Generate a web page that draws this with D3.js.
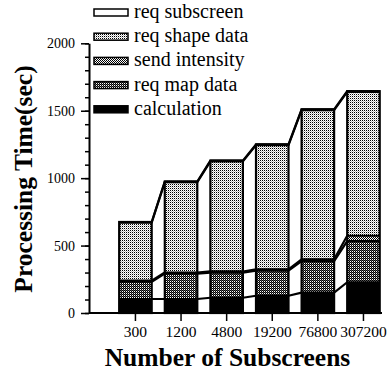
<!DOCTYPE html>
<html>
<head>
<meta charset="utf-8">
<script src="https://cdn.jsdelivr.net/npm/d3@7"></script>
<style>
  body { margin: 0; background: #fff; }
  svg { display: block; }
  text { font-family: 'Liberation Serif', 'Times New Roman', serif; }
</style>
</head>
<body>
<div id="chart"></div>
<script>
// values (seconds), bottom layer first
const categories = ["300", "1200", "4800", "19200", "76800", "307200"];
const calculation   = [104, 104, 113, 128, 151, 228];
const reqMapData    = [128, 188, 187, 186, 233, 305];
const sendIntensity = [8, 8, 8, 10, 14, 40];
const reqShapeData  = [430, 670, 817, 921, 1107, 1067];
const reqSubscreen  = [5, 5, 5, 5, 5, 5];
const yTicks = [0, 500, 1000, 1500, 2000];
const yMinorTicks = d3.range(0, 2001, 100);

const layerKeys = ["calculation", "reqMap", "send", "shape", "subscreen"];
const legendItems = [
  { key: "subscreen", label: "req subscreen" },
  { key: "shape", label: "req shape data" },
  { key: "send", label: "send intensity" },
  { key: "reqMap", label: "req map data" },
  { key: "calculation", label: "calculation" }
];

const table = categories.map((c, i) => ({
  cat: c,
  calculation: calculation[i],
  reqMap: reqMapData[i],
  send: sendIntensity[i],
  shape: reqShapeData[i],
  subscreen: reqSubscreen[i]
}));

const serif = "'Liberation Serif', 'Times New Roman', serif";
const width = 391, height = 374;
const svg = d3.select("#chart").append("svg")
  .attr("width", width)
  .attr("height", height);

// fill patterns
const defs = svg.append("defs");
function addPattern(id, w, h, cells) {
  const p = defs.append("pattern")
    .attr("id", id)
    .attr("patternUnits", "userSpaceOnUse")
    .attr("width", w).attr("height", h);
  p.append("rect").attr("width", w).attr("height", h).attr("fill", "#fff");
  cells.forEach(c => p.append("rect")
    .attr("x", c[0]).attr("y", c[1]).attr("width", 1).attr("height", 1)
    .attr("fill", c[2]));
}
addPattern("p-shape", 2, 2, [[0, 0, "#000"], [1, 1, "#bbb"]]);
addPattern("p-send", 2, 2, [[0, 0, "#000"], [1, 1, "#000"]]);
addPattern("p-map", 2, 2, [[0, 0, "#000"], [1, 1, "#000"], [1, 0, "#555"]]);

const fills = {
  calculation: "#000",
  reqMap: "url(#p-map)",
  send: "url(#p-send)",
  shape: "url(#p-shape)",
  subscreen: "#fff"
};

// scales
const x = d3.scaleBand()
  .domain(categories)
  .range([116.9, 382])
  .paddingInner(0.287)
  .paddingOuter(0.05);

const y = d3.scaleLinear()
  .domain([0, 2000])
  .range([313, 43.3]);

const series = d3.stack().keys(layerKeys)(table);
const bw = x.bandwidth();

// stacked segments
series.forEach(s => {
  svg.append("g").selectAll("rect")
    .data(s)
    .enter()
    .append("rect")
    .attr("x", d => x(d.data.cat))
    .attr("y", d => y(d[1]))
    .attr("width", bw)
    .attr("height", d => y(d[0]) - y(d[1]))
    .attr("fill", fills[s.key]);
});

// layer tops, running across the bars and joining neighbours
const line = d3.line();
series.forEach(s => {
  const pts = [];
  s.forEach(d => {
    pts.push([x(d.data.cat), y(d[1])]);
    pts.push([x(d.data.cat) + bw, y(d[1])]);
  });
  svg.append("path")
    .attr("d", line(pts))
    .attr("fill", "none")
    .attr("stroke", "#000")
    .attr("stroke-width", 2.2)
    .attr("stroke-linejoin", "round");
});

// bar outlines
const topLayer = series[series.length - 1];
svg.append("g").selectAll("rect")
  .data(topLayer)
  .enter()
  .append("rect")
  .attr("x", d => x(d.data.cat))
  .attr("y", d => y(d[1]))
  .attr("width", bw)
  .attr("height", d => y(0) - y(d[1]))
  .attr("fill", "none")
  .attr("stroke", "#000")
  .attr("stroke-width", 2.2);

// y axis
const yAxisX = 89;
svg.append("g")
  .attr("transform", "translate(" + yAxisX + ",0)")
  .call(d3.axisLeft(y).tickValues(yMinorTicks).tickSize(4).tickFormat(""))
  .call(g => g.select(".domain").remove())
  .selectAll("line").attr("stroke-width", 1.5);

const yAxis = svg.append("g")
  .attr("transform", "translate(" + yAxisX + ",0)")
  .call(d3.axisLeft(y).tickValues(yTicks).tickFormat(d3.format("d"))
    .tickSize(8).tickPadding(6).tickSizeOuter(0));
yAxis.select(".domain").attr("stroke-width", 2);
yAxis.selectAll("line").attr("stroke-width", 1.5);
yAxis.selectAll("text")
  .style("font-family", serif)
  .style("font-size", "14px")
  .attr("fill", "#000");

// x axis
svg.append("line")
  .attr("x1", yAxisX).attr("x2", 382)
  .attr("y1", y(0)).attr("y2", y(0))
  .attr("stroke", "#000")
  .attr("stroke-width", 2);

const xAxis = svg.append("g")
  .attr("transform", "translate(0," + y(0) + ")")
  .call(d3.axisBottom(x).tickSize(8).tickPadding(5).tickSizeOuter(0));
xAxis.select(".domain").remove();
xAxis.selectAll("line").attr("stroke-width", 1.5);
xAxis.selectAll("text")
  .style("font-family", serif)
  .style("font-size", "15.5px")
  .attr("fill", "#000");

// axis titles
svg.append("text")
  .attr("x", 227.5)
  .attr("y", 366)
  .attr("text-anchor", "middle")
  .style("font-family", serif)
  .style("font-size", "25.5px")
  .style("font-weight", "bold")
  .text("Number of Subscreens");

svg.append("text")
  .attr("transform", "translate(32,179) rotate(-90)")
  .attr("text-anchor", "middle")
  .style("font-family", serif)
  .style("font-size", "25.5px")
  .style("font-weight", "bold")
  .text("Processing Time(sec)");

// legend
const legend = svg.append("g");
legendItems.forEach((item, i) => {
  const cy = 12.5 + i * 24.2;
  legend.append("rect")
    .attr("x", 94)
    .attr("y", cy - 3.5)
    .attr("width", 34)
    .attr("height", 7)
    .attr("fill", fills[item.key])
    .attr("stroke", "#000")
    .attr("stroke-width", 1.5);
  legend.append("text")
    .attr("x", 134)
    .attr("y", cy + 5.5)
    .style("font-family", serif)
    .style("font-size", "20px")
    .text(item.label);
});
</script>
</body>
</html>
